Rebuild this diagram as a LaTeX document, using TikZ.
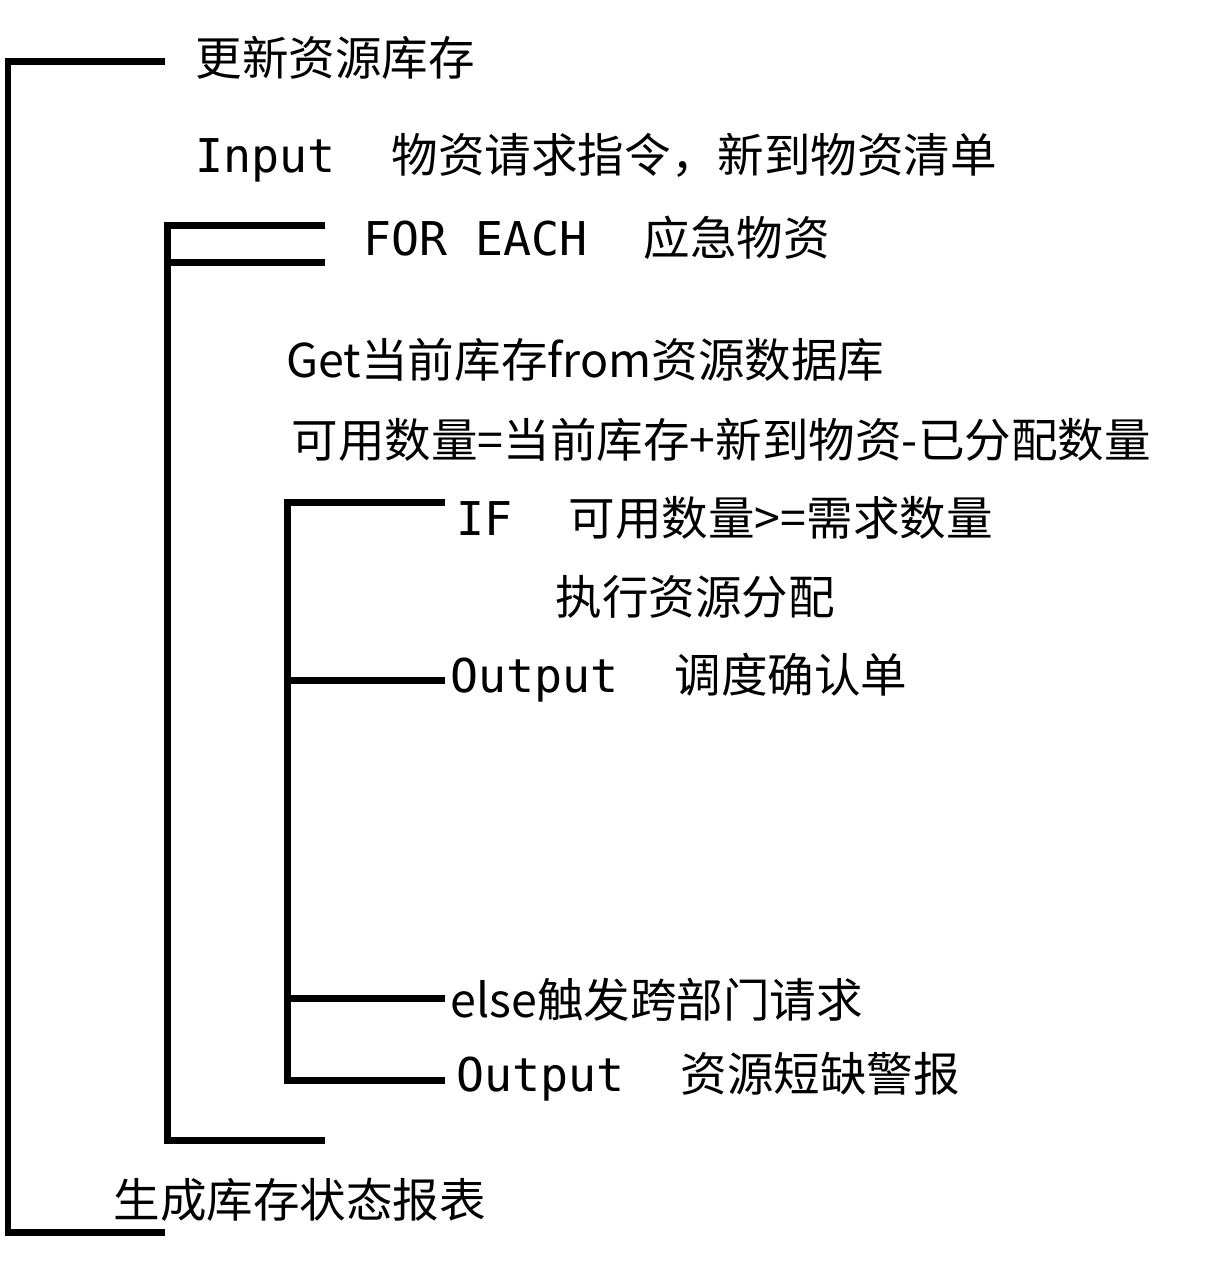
\documentclass[tikz,border=0pt]{standalone}
\usepackage{fontspec}
\setmainfont{Noto Sans CJK SC}
\newfontfamily\mono{DejaVu Sans Mono}
\begin{document}
\begin{tikzpicture}
[x=0.02cm, y=-0.02cm, line width=0.14cm,
  lbl/.style={anchor=west, inner sep=0pt, font=\fontsize{26.5}{30}\selectfont}]
  \useasboundingbox (0,0) rectangle (1212,1264);
  % outer loop
  \draw (165,62) -- (8,62) -- (8,1232) -- (165,1232);
  % for each
  \draw (325,225) -- (167,225) -- (167,1140) -- (325,1140);
  \draw (167,262) -- (325,262);
  % if / else
  \draw (445,502) -- (287,502) -- (287,1080) -- (445,1080);
  \draw (287,680) -- (445,680);
  \draw (287,998) -- (445,998);
  \node[lbl] (upd) at (192,58) {更新资源库存};
  \node[lbl] (inp) at (192,158) {{\mono Input\ \ }物资请求指令，新到物资清单};
  \node[lbl] (for) at (360,238) {{\mono FOR EACH\ \ }应急物资};
  \node[lbl] (get) at (283,360) {Get当前库存from资源数据库};
  \node[lbl] (avl) at (288,440) {可用数量=当前库存+新到物资-已分配数量};
  \node[lbl] (if) at (453,518) {{\mono IF\ \ }可用数量>=需求数量};
  \node[lbl] (exe) at (552,597) {执行资源分配};
  \node[lbl] (out1) at (447,678) {{\mono Output\ \ }调度确认单};
  \node[lbl] (els) at (447,1000) {else触发跨部门请求};
  \node[lbl] (out2) at (453,1077) {{\mono Output\ \ }资源短缺警报};
  \node[lbl] (rep) at (110,1200) {生成库存状态报表};
\end{tikzpicture}
\end{document}
